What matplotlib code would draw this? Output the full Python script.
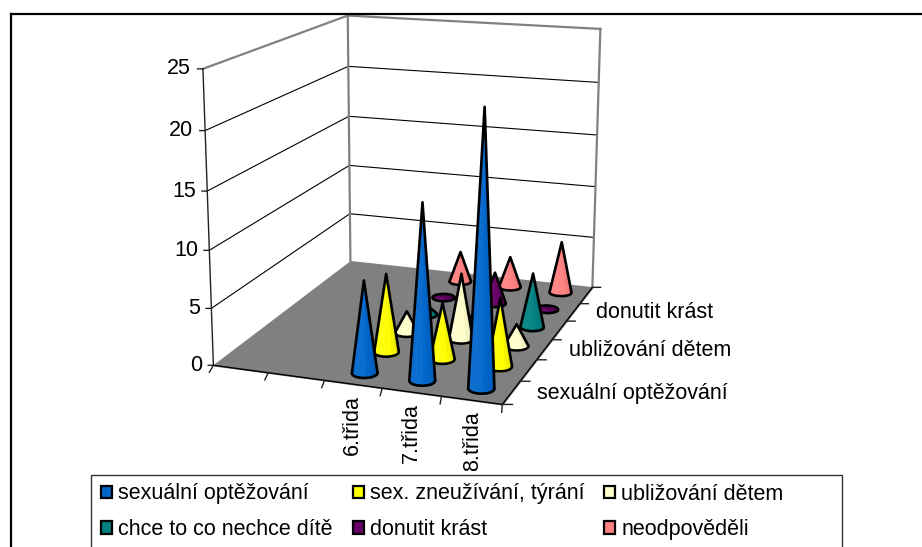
import numpy as np
import matplotlib
matplotlib.use('Agg')
import matplotlib.pyplot as plt
from matplotlib.patches import Patch, Rectangle
from matplotlib.lines import Line2D
from mpl_toolkits.mplot3d.art3d import Poly3DCollection

plt.rcParams['font.family'] = ['Liberation Sans', 'DejaVu Sans']

x_labels = ['', '', '6.třida', '7.třida', '8.třida']
y_labels = ['sexuální optěžování', '', 'ubližování dětem', '', 'donutit krást', '']
z_ticks = [0, 5, 10, 15, 20, 25]
series_names = ['sexuální optěžování', 'sex. zneužívání, týrání', 'ubližování dětem',
                'chce to co nechce dítě', 'donutit krást', 'neodpověděli']
series_colors = ['#0066CC', '#FFFF00', '#FFFFCC', '#008080', '#660066', '#FF8080']
sexualni = [8, 15, 23]
zneuzivani = [7, 5, 6]
ublizovani = [2, 6, 2]
chce_to = [1, 1, 5]
donutit = [0, 3, 0]
neodpovedeli = [3, 3, 5]
series_values = [sexualni, zneuzivani, ublizovani, chce_to, donutit, neodpovedeli]

W, H = 922, 547
fig = plt.figure(figsize=(W / 100, H / 100), dpi=100)
left, bottom, L = 150.21, 91.97, 518.68
ax = fig.add_axes([left / W, bottom / H, L / W, L / H], projection='3d', computed_zorder=False)
ax.set_xlim(0, 5); ax.set_ylim(0, 6); ax.set_zlim(0, 25)
ax.view_init(elev=14.736, azim=-70.554, roll=-0.025)
ax.set_proj_type('persp', focal_length=0.5508)
ax.set_box_aspect((1, 1.2249, 0.9989))
ax.set_xticks([]); ax.set_yticks([]); ax.set_zticks([])
ax.set_axis_off()

GREY = '#808080'
floor = Poly3DCollection([[(0, 0, 0), (5, 0, 0), (5, 6, 0), (0, 6, 0)]], facecolor=GREY, edgecolor=GREY, zorder=2)
ax.add_collection3d(floor)
wallc = dict(color=GREY, lw=1.6, zorder=1.5)
ax.plot([0, 0], [0, 6], [25, 25], **wallc)
ax.plot([0, 5], [6, 6], [25, 25], **wallc)
ax.plot([0, 0], [6, 6], [0, 25], **wallc)
ax.plot([5, 5], [6, 6], [0, 25], **wallc)
for v in z_ticks[1:-1]:
    ax.plot([0, 0, 5], [0, 6, 6], [v, v, v], color='black', lw=0.8, zorder=1)
ax.plot([0, 0], [0, 0], [0, 25], color='#222222', lw=1.0, zorder=2.5)
ax.plot([0, 5], [0, 0], [0, 0], color='black', lw=1.0, zorder=2.5)
ax.plot([5, 5], [0, 6], [0, 0], color='black', lw=1.0, zorder=2.5)

M = ax.get_proj()
def proj(x, y, z):
    v = M @ np.array([x, y, z, 1.0])
    return v[0] / v[3], v[1] / v[3], v[3]

def label3d(x, y, z, s, **kw):
    px, py, _ = proj(x, y, z)
    ax.text2D(px, py, s, transform=ax.transData, fontsize=FS, **kw)

FS = 15.5
for v in z_ticks:
    ax.plot([0, -0.08], [0, -0.03], [v, v], color='#222222', lw=1.0, zorder=2.5)
    label3d(-0.17, -0.07, v, str(v), ha='right', va='center')
for k in range(len(x_labels) + 1):
    ax.plot([k, k + 0.08], [0, -0.3], [0, 0], color='#222222', lw=1.0, zorder=2.5)
for k, lab in enumerate(x_labels):
    if lab:
        label3d(k + 0.65, -0.42, 0, lab, rotation=90, ha='center', va='top')
for j in range(len(y_labels) + 1):
    ax.plot([5, 5.15], [j, j + 0.05], [0, 0], color='#222222', lw=1.0, zorder=2.5)
for j, lab in enumerate(y_labels):
    if lab:
        label3d(5.40, j + 0.6, 0, lab, ha='left', va='center')

def shade(col, f):
    c = np.array(matplotlib.colors.to_rgb(col))
    return tuple(np.clip(c * f if f < 1 else c + (1 - c) * (f - 1), 0, 1))

R = 0.21
N = 16
th = np.linspace(0, 2 * np.pi, N + 1)
cones = []
for si, vals in enumerate(series_values):
    for ci, val in enumerate(vals):
        cx, cy = ci + 2.5, si + 0.5
        cones.append((proj(cx, cy, 0)[2], cx, cy, val, series_colors[si]))
cones.sort(key=lambda c: -c[0])

for n, (w, cx, cy, val, col) in enumerate(cones):
    z0 = 3 + n
    bx = cx + R * np.cos(th); by = cy + R * np.sin(th)
    base = Poly3DCollection([list(zip(bx, by, np.zeros(N + 1)))], facecolor=col, edgecolor=col, zorder=z0)
    ax.add_collection3d(base)
    pb = np.array([proj(a, b, 0)[:2] for a, b in zip(bx, by)])
    ptip = np.array(proj(cx, cy, val)[:2])
    facets, fcols = [], []
    for i in range(N):
        facets.append([(cx, cy, val), (bx[i], by[i], 0), (bx[i + 1], by[i + 1], 0)])
        ang = (th[i] + th[i + 1]) / 2
        fcols.append(shade(col, 0.92 + 0.14 * np.cos(ang + np.pi / 2 + 0.3)))
    ax.add_collection3d(Poly3DCollection(facets, facecolors=fcols, edgecolors=fcols, linewidths=0.3, zorder=z0 + 0.1))
    okw = dict(color='black', lw=1.9, zorder=z0 + 0.2, solid_capstyle='round', solid_joinstyle='round')
    if val > 0:
        d = pb[:-1] - ptip
        an = np.arctan2(d[:, 0], -d[:, 1])
        ref = np.arctan2(pb[:-1, 0].mean() - ptip[0], -(pb[:-1, 1].mean() - ptip[1]))
        rel = (an - ref + np.pi) % (2 * np.pi) - np.pi
        i1, i2 = int(rel.argmin()), int(rel.argmax())
        ax.plot([bx[i1], cx, bx[i2]], [by[i1], cy, by[i2]], [0, val, 0], **okw)
        a = [i1]
        while a[-1] != i2:
            a.append((a[-1] + 1) % N)
        b = [i1]
        while b[-1] != i2:
            b.append((b[-1] - 1) % N)
        arc = a if pb[a, 1].mean() < pb[b, 1].mean() else b
        ax.plot(bx[arc], by[arc], np.zeros(len(arc)), **okw)
    else:
        ax.plot(bx, by, np.zeros(N + 1), **okw)

ax.set_xlim(0, 5); ax.set_ylim(0, 6); ax.set_zlim(0, 25)

frame = Rectangle((90.5 / W, -0.05), (842 - 90.5) / W, 1 - 475 / H + 0.05, transform=fig.transFigure,
                  facecolor='none', edgecolor='#333333', lw=1.0)
fig.add_artist(frame)
order = [0, 3, 1, 4, 2, 5]
handles = [Patch(facecolor=series_colors[i], edgecolor='black', linewidth=1.6) for i in order]
labels = [series_names[i] for i in order]
leg = fig.legend(handles, labels, ncol=3, loc='upper left', bbox_to_anchor=(101 / W, 1 - 483.5 / H),
                 borderaxespad=0, frameon=False, fontsize=FS,
                 handlelength=0.5, handleheight=0.5, handletextpad=0.28, labelspacing=0.68,
                 borderpad=0, columnspacing=0.95)

fig.add_artist(Line2D([10.5 / W, 10.5 / W], [0, 1 - 13.5 / H], color='black', lw=1.6, transform=fig.transFigure))
fig.add_artist(Line2D([10.5 / W, 1], [1 - 13.5 / H, 1 - 13.5 / H], color='black', lw=1.6, transform=fig.transFigure))

fig.savefig('out.png', dpi=100)
